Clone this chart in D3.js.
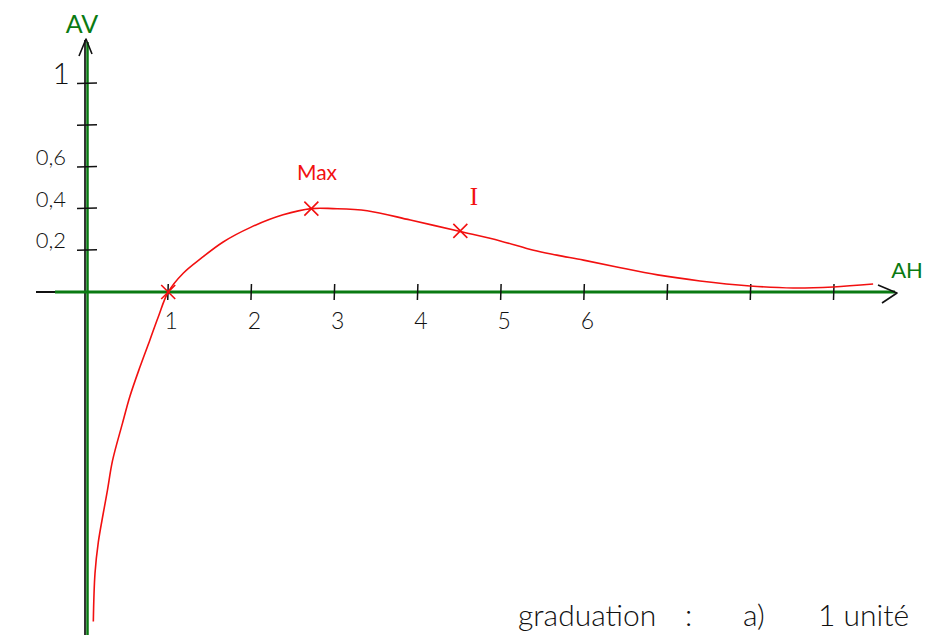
<!DOCTYPE html>
<html>
<head>
<meta charset="utf-8">
<script src="https://cdn.jsdelivr.net/npm/d3@7"></script>
<style>
  body { margin: 0; background: #fff; }
  text { font-family: "Lato", "Open Sans", sans-serif; }
</style>
</head>
<body>
<script>
  // curve points (AH, AV)
  var curveX = [0.10, 0.12, 0.16, 0.22, 0.27, 0.33, 0.45, 0.54, 0.66, 0.78, 0.88, 1.00,
    1.18, 1.39, 1.66, 1.99, 2.38, 2.72, 2.98, 3.39, 3.91, 4.51, 4.99, 5.39, 5.67,
    5.99, 6.39, 6.88, 7.39, 7.99, 8.51, 8.99, 9.47];
  var curveY = [-1.58, -1.35, -1.20, -1.06, -0.95, -0.81, -0.63, -0.50, -0.36, -0.23, -0.12, 0.00,
    0.09, 0.16, 0.24, 0.31, 0.37, 0.40, 0.40, 0.39, 0.345, 0.29, 0.245, 0.20, 0.177,
    0.153, 0.12, 0.082, 0.053, 0.029, 0.019, 0.024, 0.038];

  var xTicks = [1, 2, 3, 4, 5, 6, 7, 8, 9];
  var xTickLabels = ["1", "2", "3", "4", "5", "6", "", "", ""];
  var yTicks = [0.2, 0.4, 0.6, 0.8, 1];
  var yTickLabels = ["0,2", "0,4", "0,6", "", "1"];

  var markNames = ["", "Max", "I"];
  var markX = [1, 2.72, 4.51];
  var markY = [0, 0.40, 0.293];

  /***** Configuration *****/
  var width = 936, height = 635;
  var green = "#0a7a12", red = "#f21010", ink = "#111";

  var x = d3.scaleLinear().domain([0, 9]).range([85, 834]);
  var y = d3.scaleLinear().domain([0, 1]).range([292, 83.5]);

  var svg = d3.select("body").append("svg")
    .attr("width", width).attr("height", height);

  var x0 = x(0) + 2, y0 = y(0);

  /***** Axes *****/
  // vertical axis: black stroke with green over it
  svg.append("line").attr("x1", x0 - 2).attr("x2", x0 - 2).attr("y1", 40).attr("y2", 635)
    .attr("stroke", "#333").attr("stroke-width", 2);
  svg.append("line").attr("x1", x0 + 0.5).attr("x2", x0 + 0.5).attr("y1", 42).attr("y2", 635)
    .attr("stroke", green).attr("stroke-width", 2.5);
  svg.append("path").attr("d", "M" + (x0 - 8) + ",56 L" + (x0 - 1) + ",39 L" + (x0 + 5) + ",54")
    .attr("fill", "none").attr("stroke", ink).attr("stroke-width", 1.6).attr("stroke-linejoin", "round");

  // horizontal axis
  svg.append("line").attr("x1", 36).attr("x2", 56).attr("y1", y0).attr("y2", y0)
    .attr("stroke", ink).attr("stroke-width", 2);
  svg.append("line").attr("x1", 55).attr("x2", 895).attr("y1", y0).attr("y2", y0)
    .attr("stroke", green).attr("stroke-width", 3);
  svg.append("path").attr("d", "M878,285 L897,293 L882,303")
    .attr("fill", "none").attr("stroke", ink).attr("stroke-width", 1.6).attr("stroke-linejoin", "round");

  // x ticks
  svg.selectAll(".xtick").data(xTicks).enter().append("line")
    .attr("class", "xtick")
    .attr("x1", function (d) { return x(d); }).attr("x2", function (d) { return x(d) - 0.5; })
    .attr("y1", y0 - 8).attr("y2", y0 + 8)
    .attr("stroke", ink).attr("stroke-width", 1.5);
  svg.selectAll(".xlab").data(xTicks).enter().append("text")
    .attr("class", "xlab")
    .attr("x", function (d) { return x(d) + 3; }).attr("y", 329)
    .attr("text-anchor", "middle").attr("font-size", 23).attr("fill", ink)
    .style("font-weight", 300)
    .text(function (d, i) { return xTickLabels[i]; });

  // y ticks
  svg.selectAll(".ytick").data(yTicks).enter().append("line")
    .attr("class", "ytick")
    .attr("x1", x0 - 10).attr("x2", x0 + 10)
    .attr("y1", function (d) { return y(d); }).attr("y2", function (d) { return y(d) - 0.5; })
    .attr("stroke", ink).attr("stroke-width", 1.5);
  svg.selectAll(".ylab").data(yTicks).enter().append("text")
    .attr("class", "ylab")
    .attr("x", function (d) { return d === 1 ? 70 : 66; })
    .attr("y", function (d) { return d === 1 ? y(d) : y(d) - 2; })
    .attr("text-anchor", "end")
    .attr("font-size", function (d) { return d === 1 ? 30 : 22; })
    .style("font-weight", 300)
    .attr("fill", ink)
    .text(function (d, i) { return yTickLabels[i]; });

  svg.append("text").attr("x", 82).attr("y", 33).attr("text-anchor", "middle")
    .attr("font-size", 25).attr("fill", green).text("AV");
  svg.append("text").attr("x", 907).attr("y", 278).attr("text-anchor", "middle")
    .attr("font-size", 22).attr("fill", green).text("AH");

  /***** Curve *****/
  var pts = curveX.map(function (d, i) { return [d, curveY[i]]; });
  var line = d3.line()
    .x(function (d) { return x(d[0]); })
    .y(function (d) { return y(d[1]); })
    .curve(d3.curveCatmullRom);
  svg.append("path").datum(pts).attr("d", line)
    .attr("fill", "none").attr("stroke", red).attr("stroke-width", 1.6);

  /***** Marked points *****/
  var marks = markX.map(function (d, i) { return { x: d, y: markY[i], name: markNames[i] }; });
  var g = svg.selectAll(".mark").data(marks).enter().append("g")
    .attr("class", "mark")
    .attr("transform", function (d) { return "translate(" + x(d.x) + "," + y(d.y) + ")"; });
  g.append("path").attr("d", "M-7,-7 L7,7 M-7,7 L7,-7")
    .attr("stroke", red).attr("stroke-width", 1.6).attr("fill", "none");

  svg.append("text").attr("x", 317).attr("y", 180).attr("text-anchor", "middle")
    .attr("font-size", 21).attr("fill", red).text(markNames[1]);
  svg.append("text").attr("x", 474).attr("y", 205).attr("text-anchor", "middle")
    .attr("font-size", 25).attr("fill", red)
    .style("font-family", "'Liberation Serif', serif").text(markNames[2]);

  /***** Note *****/
  var note = svg.append("g").attr("fill", ink).attr("font-size", 30).style("font-weight", 300);
  note.append("text").attr("x", 518).attr("y", 626).text("graduation");
  note.append("text").attr("x", 685).attr("y", 626).text(":");
  note.append("text").attr("x", 743).attr("y", 626).text("a)");
  note.append("text").attr("x", 818).attr("y", 626).text("1 unité");
</script>
</body>
</html>
